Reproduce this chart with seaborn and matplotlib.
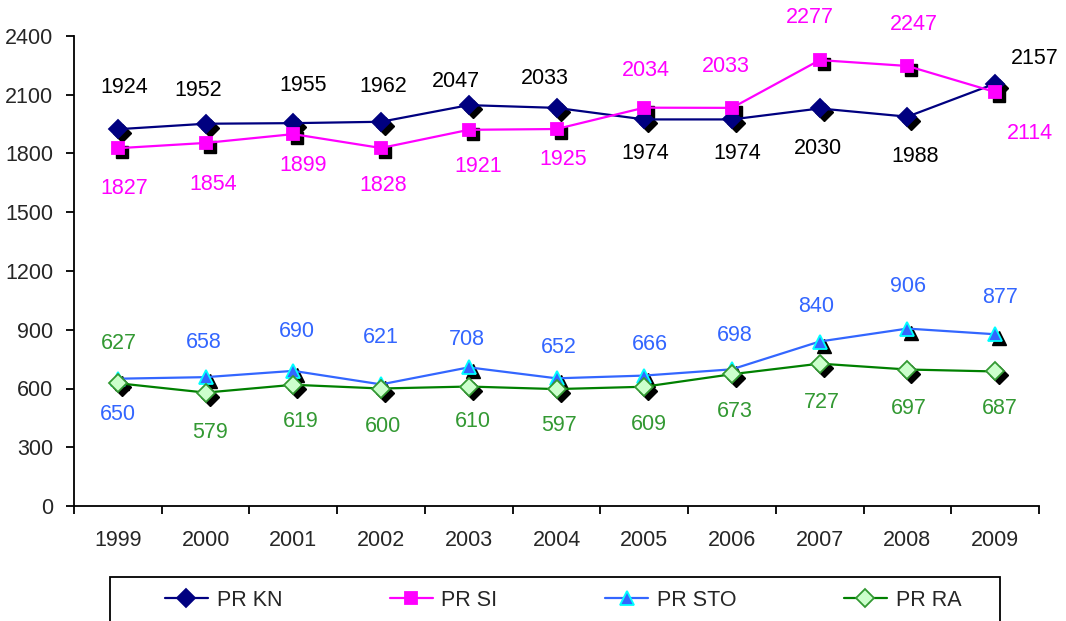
import numpy as np
import pandas as pd
import matplotlib
matplotlib.use("Agg")
import matplotlib.pyplot as plt
import matplotlib.transforms as mtransforms
from matplotlib.patches import Rectangle
import seaborn as sns

# ---------------- data ----------------
years = ["1999", "2000", "2001", "2002", "2003", "2004", "2005", "2006", "2007", "2008", "2009"]
pr_kn = [1924, 1952, 1955, 1962, 2047, 2033, 1974, 1974, 2030, 1988, 2157]
pr_si = [1827, 1854, 1899, 1828, 1921, 1925, 2034, 2033, 2277, 2247, 2114]
pr_sto = [650, 658, 690, 621, 708, 652, 666, 698, 840, 906, 877]
pr_ra = [627, 579, 619, 600, 610, 597, 609, 673, 727, 697, 687]
series_names = ["PR KN", "PR SI", "PR STO", "PR RA"]
y_ticks = [0, 300, 600, 900, 1200, 1500, 1800, 2100, 2400]

# label offsets (pixels, relative to each point) -- layout only
kn_off = [(6, 42), (-7, 33), (10, 38), (2, 35), (-13, 24), (-12, 29), (1, -34), (5, -34), (-2, -40), (8, -40), (40, 25)]
si_off = [(6, -40), (8, -42), (10, -31), (2, -37), (9, -37), (7, -30), (2, 37), (-6, 41), (-10, 43), (6, 41), (35, -41)]
sto_off = [(0, -36), (-2, 35), (4, 39), (0, 47), (-2, 28), (2, 31), (6, 31), (3, 34), (-4, 35), (1, 42), (5, 37)]
ra_off = [(1, 40), (4, -40), (7, -37), (2, -38), (4, -35), (3, -36), (5, -38), (3, -37), (2, -39), (1, -39), (5, -37)]

sns.set_style("ticks")
plt.rcParams["font.family"] = ["Liberation Sans", "DejaVu Sans"]
FS = 15.5

fig = plt.figure(figsize=(10.66, 6.21), dpi=100)
ax = fig.add_axes([74 / 1066, 1 - 506 / 621, (1039 - 74) / 1066, (506 - 36) / 621])

pos = np.arange(len(years))
styles = [
    dict(values=pr_kn, color="#000080", marker="D", ms=9, mfc="#000080", mec="#000080", lab="black", off=kn_off),
    dict(values=pr_si, color="#FF00FF", marker="s", ms=9, mfc="#FF00FF", mec="#FF00FF", lab="#FF00FF", off=si_off),
    dict(values=pr_sto, color="#3366FF", marker="^", ms=9.5, mfc="#3366FF", mec="#00FFFF", lab="#3366FF", off=sto_off),
    dict(values=pr_ra, color="#008000", marker="D", ms=9.5, mfc="#CCFFCC", mec="#339933", lab="#339933", off=ra_off),
]

shadow = ax.transData + mtransforms.ScaledTranslation(4 / 100, -4 / 100, fig.dpi_scale_trans)

for name, st in zip(series_names, styles):
    df = pd.DataFrame({"pos": pos, "value": st["values"]})
    ax.plot(df["pos"], df["value"], linestyle="none", marker=st["marker"], ms=st["ms"],
            color="black", mec="black", transform=shadow, zorder=2)
    sns.lineplot(data=df, x="pos", y="value", ax=ax, color=st["color"], linewidth=1.6,
                 marker=st["marker"], markersize=st["ms"], markerfacecolor=st["mfc"],
                 markeredgecolor=st["mec"], markeredgewidth=1.3, label=name, zorder=3,
                 legend=False)
    for i, v in enumerate(st["values"]):
        dx, dy = st["off"][i]
        ax.annotate(str(v), (pos[i], v), xytext=(dx, dy), textcoords="offset pixels",
                    ha="center", va="center", color=st["lab"], fontsize=FS, zorder=5,
                    annotation_clip=False)

ax.set_xlim(-0.5, len(years) - 0.5)
ax.set_ylim(0, 2400)
ax.set_yticks(y_ticks)
ax.set_yticklabels([str(t) for t in y_ticks], fontsize=FS)
ax.set_xticks(pos)
ax.set_xticklabels(years, fontsize=FS)
ax.tick_params(axis="x", which="major", length=0, pad=17)
ax.set_xticks(np.arange(-0.5, len(years), 1.0), minor=True)
ax.tick_params(axis="x", which="minor", length=6, width=1.3, direction="out", color="black")
ax.tick_params(axis="y", length=6, width=1.3, direction="out", color="black", pad=9)
ax.set_xlabel("")
ax.set_ylabel("")
sns.despine(ax=ax)
for s in ["left", "bottom"]:
    ax.spines[s].set_color("black")
    ax.spines[s].set_linewidth(1.3)

handles, labels = ax.get_legend_handles_labels()
leg = fig.legend(handles, labels, loc="center", ncol=4,
                 bbox_to_anchor=(563 / 1066, 1 - 600 / 621),
                 frameon=False, fontsize=FS, handlelength=2.0, handletextpad=0.4,
                 columnspacing=5.0, borderpad=0, borderaxespad=0)
fig.patches.append(Rectangle((110 / 1066, -0.05), 890 / 1066, (1 - 577 / 621) + 0.05,
                             transform=fig.transFigure, fill=False, edgecolor="black",
                             linewidth=1.3, zorder=0))

fig.savefig("out.png", dpi=100, facecolor="white")
